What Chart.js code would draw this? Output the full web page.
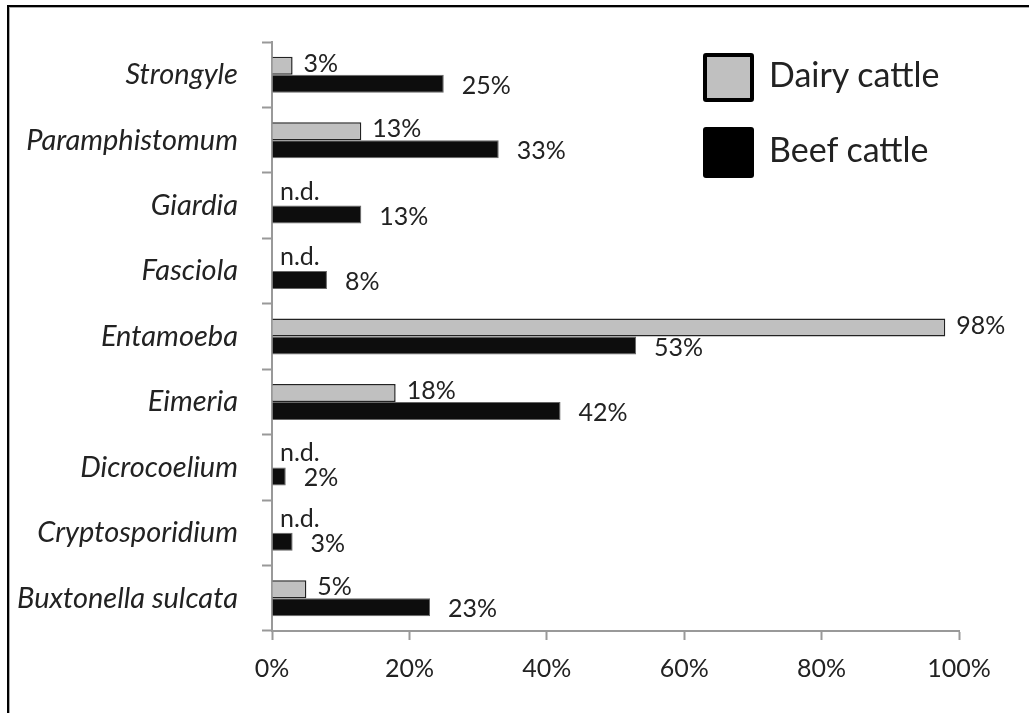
<!DOCTYPE html>
<html>
<head>
<meta charset="utf-8">
<script src="https://cdn.jsdelivr.net/npm/chart.js@4"></script>
<style>
  html, body { margin: 0; padding: 0; background: #fff; overflow: hidden; }
  #wrap { position: relative; width: 1029px; height: 713px; }
  #frame {
    position: absolute; left: 7px; top: 5px; width: 1100px; height: 800px;
    border-left: 2px solid #000; border-top: 2px solid #000;
    box-shadow: inset 1px 1px 0 #aaa;
  }
  #barChart { position: absolute; left: 0; top: 0; }
  .key { position: absolute; left: 703px; width: 51px; box-sizing: border-box; border-radius: 3px; }
  .key-text { position: absolute; left: 769px; font-family: Lato, sans-serif; font-size: 34px; color: #222; line-height: 40px; }
</style>
</head>
<body>
<div id="wrap">
  <div id="frame"></div>
  <canvas id="barChart" width="1029" height="713"></canvas>
  <div class="key" style="top:53px;height:49px;background:#c0c0c0;border:4px solid #000;"></div>
  <div class="key-text" style="top:54px;">Dairy cattle</div>
  <div class="key" style="top:127px;height:51px;background:#000;"></div>
  <div class="key-text" style="top:129px;">Beef cattle</div>
</div>
<script>
const parasites = [
  "Strongyle",
  "Paramphistomum",
  "Giardia",
  "Fasciola",
  "Entamoeba",
  "Eimeria",
  "Dicrocoelium",
  "Cryptosporidium",
  "Buxtonella sulcata",
];
// null = not determined
const dairy = [3, 13, null, null, 98, 18, null, null, 5];
const beef = [25, 33, 13, 8, 53, 42, 2, 3, 23];
const xTicks = [0, 20, 40, 60, 80, 100];

const textColor = "#222";
const axisColor = "#999";

// percentages next to each bar, "n.d." where there is no dairy value
const valueLabels = {
  id: "valueLabels",
  afterDatasetsDraw(chart) {
    const c = chart.ctx;
    const x0 = chart.scales.x.getPixelForValue(0);
    c.save();
    c.font = "25px Lato, sans-serif";
    c.fillStyle = textColor;
    c.textBaseline = "middle";
    c.textAlign = "left";
    chart.data.datasets.forEach((ds, i) => {
      const meta = chart.getDatasetMeta(i);
      meta.data.forEach((bar, j) => {
        const v = ds.data[j];
        const h = chart.getDatasetMeta(1).data[j].height;
        const cy = chart.scales.y.getPixelForValue(j) + (i === 0 ? -h / 2 : h / 2);
        if (v === null) {
          c.fillText("n.d.", x0 + 8, cy - 5);
        } else if (i === 0) {
          c.fillText(v + "%", bar.x + 11, cy - 2);
        } else {
          c.fillText(v + "%", bar.x + 18, cy + 2);
        }
      });
    });
    c.restore();
  },
};

const ctx = document.getElementById("barChart");

new Chart(ctx, {
  type: "bar",
  data: {
    labels: parasites,
    datasets: [
      {
        label: "Dairy cattle",
        data: dairy,
        backgroundColor: "#c0c0c0",
        borderColor: "#222",
        borderWidth: 1.5,
        categoryPercentage: 0.55,
        barPercentage: 1.0,
      },
      {
        label: "Beef cattle",
        data: beef,
        backgroundColor: "#0d0d0d",
        borderColor: "#666",
        borderWidth: 1,
        categoryPercentage: 0.55,
        barPercentage: 1.0,
      },
    ],
  },
  options: {
    indexAxis: "y",
    responsive: false,
    animation: false,
    layout: { padding: { left: 0, right: 70, top: 42, bottom: 0 } },
    plugins: {
      legend: { display: false },
      tooltip: { enabled: false },
    },
    scales: {
      x: {
        min: 0,
        max: 100,
        afterBuildTicks: (scale) => {
          scale.ticks = xTicks.map((v) => ({ value: v }));
        },
        afterFit: (scale) => {
          scale.height = 82;
        },
        grid: {
          drawOnChartArea: false,
          drawTicks: true,
          tickLength: 9,
          tickWidth: 2,
          tickColor: axisColor,
        },
        border: { color: axisColor, width: 2 },
        ticks: {
          padding: 14,
          color: textColor,
          font: { family: "Lato, sans-serif", size: 25 },
          callback: (v) => v + "%",
        },
      },
      y: {
        afterFit: (scale) => {
          scale.width = 272;
        },
        grid: {
          drawOnChartArea: false,
          drawTicks: true,
          tickLength: 10,
          tickWidth: 2,
          tickColor: axisColor,
        },
        border: { color: axisColor, width: 2 },
        ticks: {
          padding: 24,
          color: textColor,
          font: { family: "Lato, sans-serif", size: 29, style: "italic" },
        },
      },
    },
  },
  plugins: [valueLabels],
});
</script>
</body>
</html>
